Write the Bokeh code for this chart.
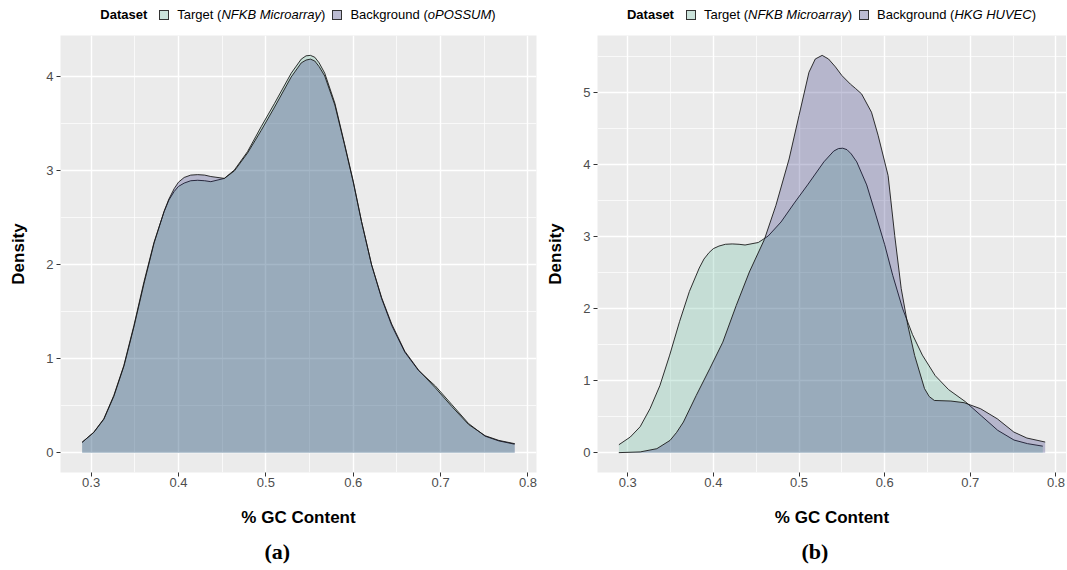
from bokeh.plotting import figure
from bokeh.layouts import row, column
from bokeh.models import Range1d, FixedTicker, Title, Div
from bokeh.embed import file_html
from bokeh.resources import INLINE

# ---------------- data ----------------
gc_target = [0.2897, 0.303, 0.3145, 0.326, 0.3375, 0.349, 0.3605, 0.372, 0.3835, 0.389,
             0.395, 0.40, 0.4065, 0.414, 0.422, 0.43, 0.437, 0.4525, 0.464, 0.479,
             0.4946, 0.51, 0.529, 0.5405, 0.546, 0.551, 0.556, 0.561, 0.5674, 0.579,
             0.590, 0.600, 0.6095, 0.621, 0.6325, 0.644, 0.659, 0.6747, 0.694, 0.713,
             0.732, 0.751, 0.7667, 0.7846]
dens_target = [0.11, 0.217, 0.36, 0.61, 0.93, 1.355, 1.82, 2.24, 2.565, 2.69,
               2.78, 2.835, 2.87, 2.895, 2.90, 2.895, 2.885, 2.92, 3.01, 3.205,
               3.47, 3.72, 4.04, 4.19, 4.225, 4.23, 4.21, 4.15, 4.04, 3.72,
               3.29, 2.89, 2.46, 2.00, 1.64, 1.355, 1.07, 0.875, 0.71, 0.51,
               0.31, 0.175, 0.125, 0.09]

gc_opossum = [0.2897, 0.303, 0.3145, 0.326, 0.3375, 0.349, 0.3605, 0.372, 0.3835, 0.389,
              0.395, 0.40, 0.4065, 0.414, 0.422, 0.43, 0.437, 0.4525, 0.464, 0.479,
              0.4946, 0.51, 0.529, 0.5405, 0.546, 0.551, 0.556, 0.561, 0.5674, 0.579,
              0.590, 0.600, 0.6095, 0.621, 0.6325, 0.644, 0.659, 0.6747, 0.694, 0.713,
              0.732, 0.751, 0.7667, 0.785]
dens_opossum = [0.11, 0.215, 0.355, 0.60, 0.92, 1.34, 1.80, 2.23, 2.57, 2.70,
                2.81, 2.88, 2.93, 2.955, 2.96, 2.955, 2.94, 2.92, 3.00, 3.19,
                3.43, 3.68, 4.00, 4.15, 4.18, 4.19, 4.17, 4.11, 4.01, 3.70,
                3.28, 2.88, 2.46, 2.00, 1.65, 1.37, 1.08, 0.88, 0.69, 0.49,
                0.30, 0.18, 0.13, 0.095]

gc_huvec = [0.2896, 0.3146, 0.334, 0.3494, 0.357, 0.365, 0.380, 0.3957, 0.411, 0.4267,
            0.442, 0.4595, 0.473, 0.4884, 0.500, 0.5116, 0.519, 0.527, 0.5344, 0.5425,
            0.550, 0.56, 0.566, 0.573, 0.5846, 0.5923, 0.604, 0.6117, 0.6193, 0.627,
            0.635, 0.6465, 0.652, 0.658, 0.6773, 0.6928, 0.712, 0.7315, 0.7508, 0.766,
            0.7874]
dens_huvec = [0.0, 0.01, 0.055, 0.17, 0.28, 0.425, 0.795, 1.165, 1.535, 2.045,
              2.51, 2.96, 3.435, 4.08, 4.685, 5.285, 5.47, 5.52, 5.47, 5.36,
              5.24, 5.12, 5.06, 4.985, 4.73, 4.41, 3.85, 3.02, 2.28, 1.77,
              1.35, 0.89, 0.78, 0.725, 0.717, 0.694, 0.61, 0.47, 0.286, 0.203,
              0.147]

x_ticks = [0.3, 0.4, 0.5, 0.6, 0.7, 0.8]
x_minor = [0.35, 0.45, 0.55, 0.65, 0.75]
y_ticks_a = [0, 1, 2, 3, 4]
y_minor_a = [0.5, 1.5, 2.5, 3.5]
y_ticks_b = [0, 1, 2, 3, 4, 5]
y_minor_b = [0.5, 1.5, 2.5, 3.5, 4.5, 5.5]

legend_title = "Dataset"
target_label = ("Target (", "NFKB Microarray", ")")
bg_label_a = ("Background (", "oPOSSUM", ")")
bg_label_b = ("Background (", "HKG HUVEC", ")")

# ---------------- styling ----------------
TARGET_RGB = (83, 179, 147)
BG_RGB = (25, 25, 112)
ALPHA = 0.25
SANS = "Liberation Sans"
SERIF = "Liberation Serif"

STRIP_H = 27
FRAME_H = 437


def hexcol(rgb):
    return "#%02X%02X%02X" % rgb


def key_span(rgb):
    c = "rgba(%d,%d,%d,%.2f)" % (rgb[0], rgb[1], rgb[2], ALPHA)
    return ('<span style="display:inline-block;width:10px;height:10px;'
            'vertical-align:-1px;border:1px solid #333333;'
            'background:linear-gradient(%s,%s),#F2F2F2;"></span>' % (c, c))


def make_strip(W, frame_left, frame_w, bg_label):
    html = (
        '<div style="position:relative;width:%dpx;height:%dpx;">'
        '<div style="position:absolute;left:%dpx;top:8px;width:%dpx;line-height:14px;'
        'text-align:center;white-space:nowrap;font-family:\'%s\';font-size:13px;color:#000000;">'
        '<b>%s</b>'
        '<span style="display:inline-block;width:12px;"></span>%s'
        '<span style="display:inline-block;width:8px;"></span>'
        '%s<i>%s</i>%s'
        '<span style="display:inline-block;width:7px;"></span>%s'
        '<span style="display:inline-block;width:8px;"></span>'
        '%s<i>%s</i>%s'
        '</div></div>'
    ) % (W, STRIP_H, frame_left, frame_w, SANS, legend_title,
         key_span(TARGET_RGB), target_label[0], target_label[1], target_label[2],
         key_span(BG_RGB), bg_label[0], bg_label[1], bg_label[2])
    return Div(text=html, width=W, height=STRIP_H, margin=(0, 0, 0, 0))


def make_panel(tag, bg_x, bg_y, y_ticks, y_minor, frame_w, border_l, border_r):
    all_x = gc_target + bg_x
    all_y = dens_target + bg_y
    xmin, xmax = min(all_x), max(all_x)
    ymax = max(all_y)
    xpad = 0.05 * (xmax - xmin)
    ypad = 0.05 * ymax
    p = figure(frame_width=frame_w, frame_height=FRAME_H,
               x_range=Range1d(xmin - xpad, xmax + xpad),
               y_range=Range1d(-ypad, ymax + ypad),
               output_backend="svg", toolbar_location=None,
               min_border_left=border_l, min_border_right=border_r,
               min_border_top=8, min_border_bottom=97)
    p.background_fill_color = "#EBEBEB"
    p.border_fill_color = "white"
    p.outline_line_color = None

    p.xaxis.ticker = FixedTicker(ticks=x_ticks, minor_ticks=x_minor)
    p.yaxis.ticker = FixedTicker(ticks=y_ticks, minor_ticks=y_minor)
    for g in (p.xgrid, p.ygrid):
        g.grid_line_color = "white"
        g.grid_line_width = 1.4
        g.minor_grid_line_color = "white"
        g.minor_grid_line_width = 0.7

    for ax in (p.xaxis, p.yaxis):
        ax.axis_line_color = None
        ax.major_tick_line_color = "#333333"
        ax.major_tick_line_width = 1
        ax.major_tick_out = 4
        ax.major_tick_in = 0
        ax.minor_tick_line_color = None
        ax.major_label_text_color = "#4D4D4D"
        ax.major_label_text_font = SANS
        ax.major_label_text_font_size = "13px"
        ax.axis_label_text_font = SANS
        ax.axis_label_text_font_size = "17px"
        ax.axis_label_text_font_style = "bold"
        ax.axis_label_text_color = "black"
    p.xaxis.major_label_standoff = 1
    p.yaxis.major_label_standoff = 3
    p.xaxis.axis_label = "% GC Content"
    p.yaxis.axis_label = "Density"
    p.xaxis.axis_label_standoff = 18
    p.yaxis.axis_label_standoff = 15

    # target first, background drawn on top (ggplot group order)
    p.varea(x=gc_target, y1=[0] * len(gc_target), y2=dens_target,
            fill_color=hexcol(TARGET_RGB), fill_alpha=ALPHA)
    p.line(gc_target, dens_target, line_color="#1A1A1A", line_width=0.9)
    p.varea(x=bg_x, y1=[0] * len(bg_x), y2=bg_y, fill_color=hexcol(BG_RGB), fill_alpha=ALPHA)
    p.line(bg_x, bg_y, line_color="#1A1A1A", line_width=0.9)

    t = Title(text=tag, align="left", offset=204, standoff=14, text_font=SERIF,
              text_font_size="22px", text_font_style="bold", text_color="black")
    p.add_layout(t, "below")
    return p


FW_A, BL_A, BR_A = 476, 60, 4
FW_B, BL_B, BR_B = 469, 57, 0

pa = make_panel("(a)", gc_opossum, dens_opossum, y_ticks_a, y_minor_a, FW_A, BL_A, BR_A)
pb = make_panel("(b)", gc_huvec, dens_huvec, y_ticks_b, y_minor_b, FW_B, BL_B, BR_B)
la = make_strip(BL_A + FW_A + BR_A, BL_A, FW_A, bg_label_a)
lb = make_strip(BL_B + FW_B + BR_B, BL_B, FW_B, bg_label_b)

layout = row(column(la, pa, spacing=0), column(lb, pb, spacing=0), spacing=0)
open("out.html", "w").write(file_html(layout, INLINE))
